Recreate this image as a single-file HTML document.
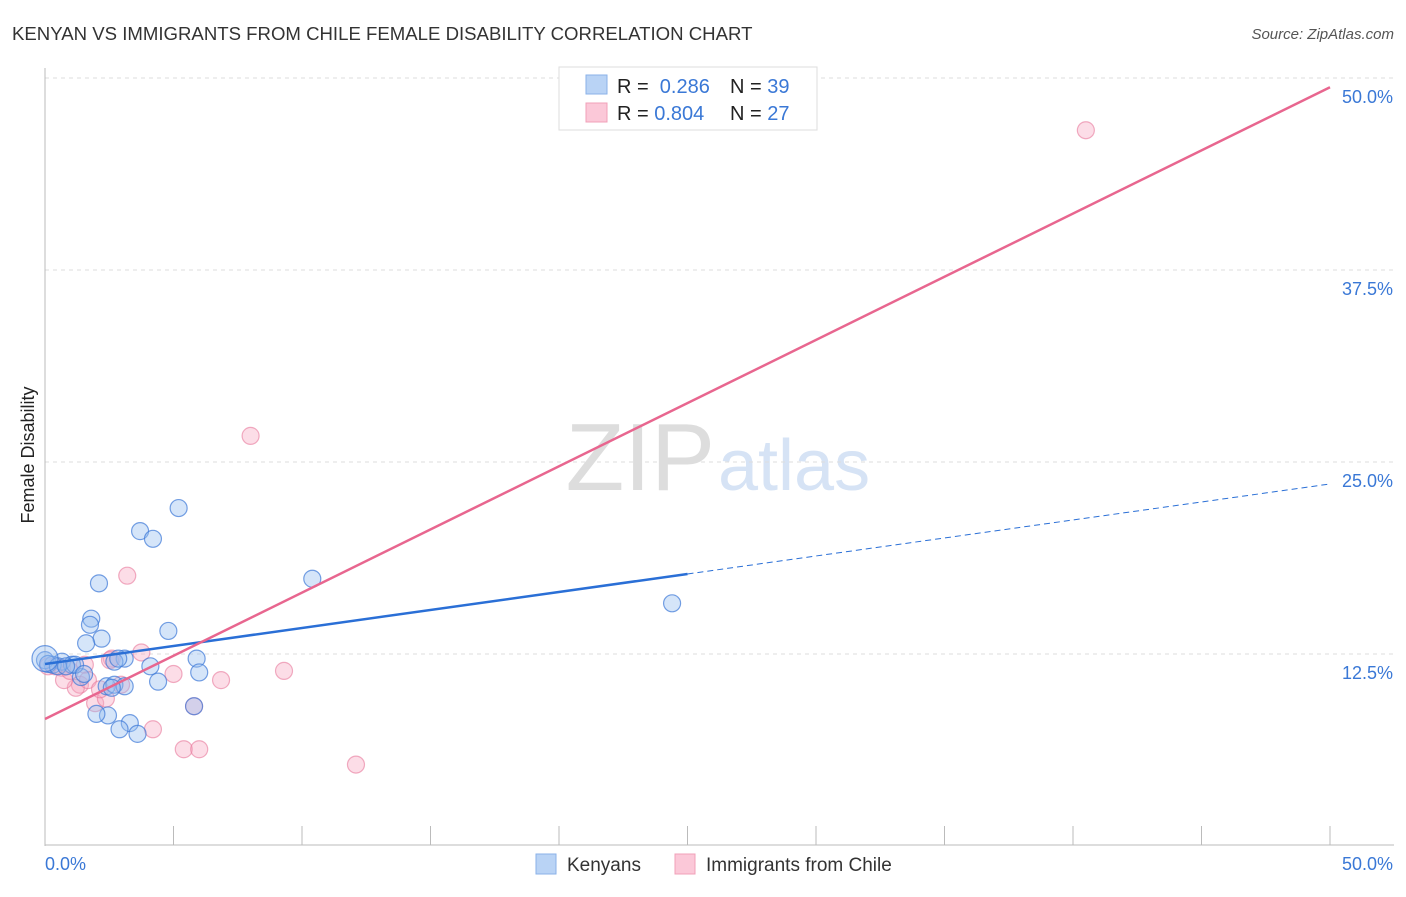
<!DOCTYPE html>
<html><head><meta charset="utf-8"><style>
body{margin:0;background:#fff;font-family:"Liberation Sans",sans-serif;}
svg text{font-family:"Liberation Sans",sans-serif;}
</style></head><body>
<svg id="c" width="1406" height="892" xmlns="http://www.w3.org/2000/svg">
<text x="12" y="40" font-size="18.6" fill="#333">KENYAN VS IMMIGRANTS FROM CHILE FEMALE DISABILITY CORRELATION CHART</text>
<text x="1394" y="39" font-size="15" fill="#555" text-anchor="end" font-style="italic">Source: ZipAtlas.com</text>
<text x="715" y="490" font-size="96" fill="#ddd" text-anchor="end" font-family="Liberation Serif">ZIP</text>
<text x="718" y="490" font-size="72" fill="#d6e3f5">atlas</text>
<g id="grid"></g><g id="marks"></g>
<text transform="translate(34,455) rotate(-90)" font-size="18" fill="#222" text-anchor="middle">Female Disability</text>
<g>
<rect x="559" y="67" width="258" height="63" fill="#fff" stroke="#ddd"/>
<rect x="586" y="75" width="21" height="19" fill="#b9d3f5" stroke="#8ab2e8"/>
<rect x="586" y="103" width="21" height="19" fill="#fbc8d8" stroke="#f0a0b8"/>
<text x="617" y="93" font-size="20" fill="#222">R = <tspan fill="#3a78d6">&#160;0.286</tspan><tspan x="730">N = </tspan><tspan fill="#3a78d6">39</tspan></text>
<text x="617" y="120" font-size="20" fill="#222">R = <tspan fill="#3a78d6">0.804</tspan><tspan x="730">N = </tspan><tspan fill="#3a78d6">27</tspan></text>
</g>
<g>
<rect x="536" y="854" width="20" height="20" fill="#b9d3f5" stroke="#8ab2e8"/>
<text x="567" y="871" font-size="19" fill="#333">Kenyans</text>
<rect x="675" y="854" width="20" height="20" fill="#fbc8d8" stroke="#f0a0b8"/>
<text x="706" y="871" font-size="19" fill="#333">Immigrants from Chile</text>
</g>
</svg>
<script>
const yTicks=[12.5,25,37.5,50];
const yTickLabels=["12.5%","25.0%","37.5%","50.0%"];
const blueX=[5.2,3.7,4.2,2.1,10.4,24.4,1.8,1.75,2.2,1.6,4.8,5.9,6.0,3.1,2.7,4.1,4.4,2.4,2.7,3.1,1.4,0.66,1.05,0.3,0,0.12,2.45,2.0,3.3,2.9,3.6,5.8,1.17,0.5,0.82,1.52,2.85,2.6,0];
const blueY=[22.0,20.5,20.0,17.1,17.4,15.8,14.8,14.4,13.5,13.2,14.0,12.2,11.3,12.2,12.0,11.7,10.7,10.4,10.5,10.4,11.0,12.0,11.8,11.8,12.1,11.85,8.5,8.6,8.0,7.6,7.3,9.1,11.8,11.7,11.7,11.2,12.2,10.3,12.2];
const pinkX=[40.5,8.0,3.2,3.75,2.6,5.0,6.85,9.3,5.8,4.2,5.4,6.0,12.1,0.4,0.66,1.36,1.2,1.55,1.95,2.37,2.96,0.74,0.12,0.97,2.53,1.67,2.14];
const pinkY=[46.6,26.7,17.6,12.6,12.2,11.2,10.8,11.4,9.1,7.6,6.3,6.3,5.3,11.7,11.6,10.5,10.3,11.8,9.3,9.6,10.5,10.8,11.7,11.4,12.1,10.8,10.2];
const blueLine=[11.85,23.57]; const blueSolidEnd=25;
const pinkLine=[8.27,49.4];
const X=v=>45+v/50*1285, Y=v=>846-v/12.5*192;
const NS="http://www.w3.org/2000/svg";
const grid=document.getElementById('grid'), marks=document.getElementById('marks');
function mk(t,a,p){const e=document.createElementNS(NS,t);for(const k in a)e.setAttribute(k,a[k]);p.appendChild(e);return e;}
yTicks.forEach((t,i)=>{
 const l=mk('line',{x1:45,x2:1394,y1:Y(t),y2:Y(t),stroke:'#ddd','stroke-dasharray':'4,4'},grid);
 
 
 const tx=mk('text',{x:1393,y:Y(t)+25,'font-size':18,fill:'#3a78d6','text-anchor':'end'},grid);tx.textContent=yTickLabels[i];
 
 
});
mk('line',{x1:45,x2:45,y1:68,y2:846,stroke:'#bbb'},grid);
mk('line',{x1:45,x2:1394,y1:845,y2:845,stroke:'#bbb'},grid);
for(let i=0;i<=10;i++){const l=mk('line',{x1:X(i*5),x2:X(i*5),y1:826,y2:845,stroke:'#bbb'},grid);
 
 }
let a=mk('text',{x:45,y:870,'font-size':18,fill:'#3a78d6'},grid);a.textContent='0.0%';


a=mk('text',{x:1393,y:870,'font-size':18,fill:'#3a78d6','text-anchor':'end'},grid);a.textContent='50.0%';


pinkX.forEach((x,i)=>{const c=mk('circle',{cx:X(x),cy:Y(pinkY[i]),r:8.5,fill:'rgba(247,170,195,0.4)',stroke:'rgba(232,120,155,0.6)','stroke-width':1.2},marks);
 
 });
blueX.forEach((x,i)=>{const c=mk('circle',{cx:X(x),cy:Y(blueY[i]),r:(i===blueX.length-1?13:8.5),fill:'rgba(150,190,240,0.4)',stroke:'rgba(60,120,215,0.7)','stroke-width':1.2},marks);
 
 });
const by=x=>blueLine[0]+(blueLine[1]-blueLine[0])*x/50;
let l=mk('line',{x1:X(0),y1:Y(by(0)),x2:X(blueSolidEnd),y2:Y(by(blueSolidEnd)),stroke:'#2a6fd6','stroke-width':2.5},marks);


l=mk('line',{x1:X(blueSolidEnd),y1:Y(by(blueSolidEnd)),x2:X(50),y2:Y(by(50)),stroke:'#2a6fd6','stroke-width':1,'stroke-dasharray':'6,4'},marks);


l=mk('line',{x1:X(0),y1:Y(pinkLine[0]),x2:X(50),y2:Y(pinkLine[1]),stroke:'#e8668f','stroke-width':2.5},marks);


</script>
</body></html>
